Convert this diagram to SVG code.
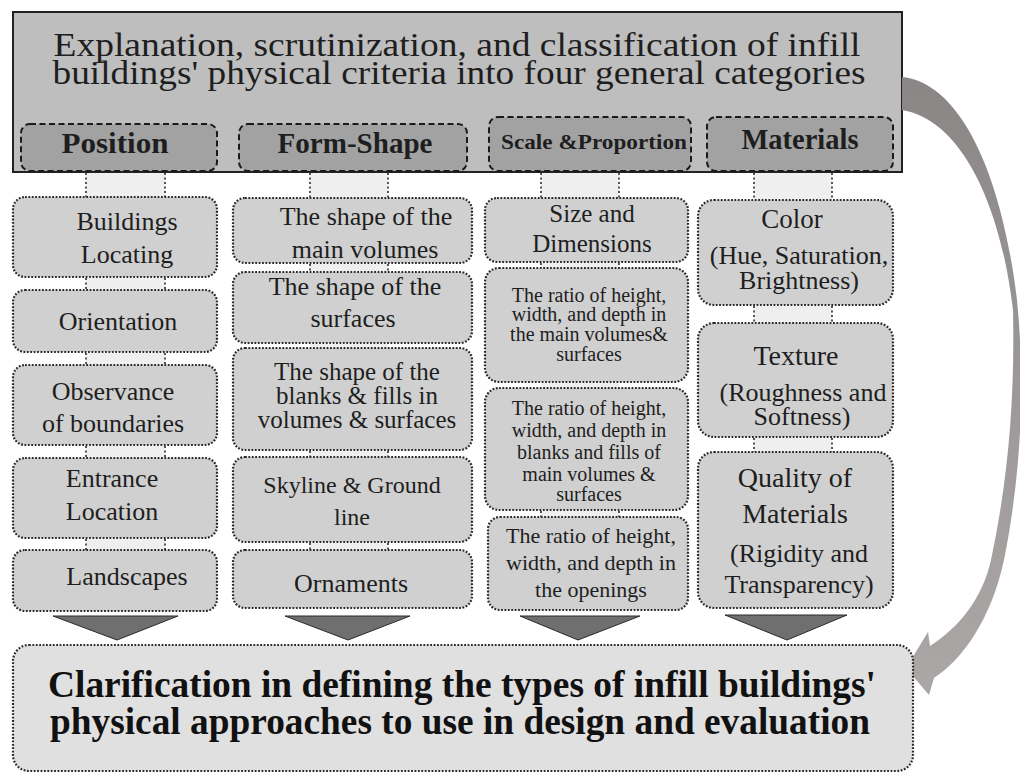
<svg xmlns="http://www.w3.org/2000/svg" width="1020" height="778" viewBox="0 0 1020 778">
  <style>
    text { font-family: "Liberation Serif", "Times New Roman", Times, serif; fill: #1e1e1e; text-anchor: middle; }
    .head { font-size: 34px; }
    .cat { font-size: 29px; font-weight: bold; }
    .big { font-size: 26px; }
    .mid { font-size: 22px; }
    .small { font-size: 20px; }
    .final { font-size: 37px; font-weight: bold; fill: #111; }
    .catbox { fill: #a2a2a2; stroke: #1a1a1a; stroke-width: 2; stroke-dasharray: 6 3.5; }
    .item { fill: #d0d0d0; stroke: #2a2a2a; stroke-width: 2.2; stroke-dasharray: 1.8 1.6; }
    .bridge { fill: #efefef; stroke: none; }
    .post { stroke: #555; stroke-width: 2; stroke-dasharray: 2 2.5; }
    .tri { fill: #6f6f6f; stroke: #2a2a2a; stroke-width: 1; }
  </style>
  <defs>
    <linearGradient id="sweep" x1="0" y1="0" x2="0" y2="1">
      <stop offset="0" stop-color="#8a8685"/>
      <stop offset="0.55" stop-color="#9d9a99"/>
      <stop offset="1" stop-color="#aaa7a6"/>
    </linearGradient>
  </defs>

  <!-- header panel with the four categories -->
  <g id="header">
    <rect x="13" y="12" width="889" height="160" fill="#bebebe" stroke="#222" stroke-width="2"/>
    <text class="head" x="457" y="56" textLength="807" lengthAdjust="spacingAndGlyphs">Explanation, scrutinization, and classification of infill</text>
    <text class="head" x="459" y="84" textLength="813" lengthAdjust="spacingAndGlyphs">buildings' physical criteria into four general categories</text>
  </g>
  <g id="cat-position">
    <rect class="catbox" x="21" y="124" width="196" height="47" rx="9"/>
    <text class="cat" x="115" y="153" textLength="107" lengthAdjust="spacingAndGlyphs">Position</text>
  </g>
  <g id="cat-form">
    <rect class="catbox" x="239" y="124" width="228" height="47" rx="9"/>
    <text class="cat" x="355" y="153" textLength="155" lengthAdjust="spacingAndGlyphs">Form-Shape</text>
  </g>
  <g id="cat-scale">
    <rect class="catbox" x="489" y="117" width="202" height="54" rx="9"/>
    <text class="cat" x="594" y="149" style="font-size:21px" textLength="186" lengthAdjust="spacingAndGlyphs">Scale &amp;Proportion</text>
  </g>
  <g id="cat-materials">
    <rect class="catbox" x="707" y="117" width="186" height="54" rx="9"/>
    <text class="cat" x="800" y="149" style="font-size:28.5px" textLength="117" lengthAdjust="spacingAndGlyphs">Materials</text>
  </g>

  <!-- links: dotted posts with pale bands between header and items -->
  <g id="connectors">
    <!-- column 1 -->
    <rect class="bridge" x="86" y="173" width="79" height="24"/>
    <rect class="bridge" x="86" y="278" width="79" height="12"/>
    <rect class="bridge" x="86" y="353" width="79" height="12"/>
    <rect class="bridge" x="86" y="446" width="79" height="12"/>
    <rect class="bridge" x="86" y="539" width="79" height="11"/>
    <path class="post" d="M86 173V197M165 173V197M86 278V290M165 278V290M86 353V365M165 353V365M86 446V458M165 446V458M86 539V550M165 539V550"/>
    <!-- column 2 -->
    <rect class="bridge" x="310" y="173" width="78" height="25"/>
    <rect class="bridge" x="310" y="264" width="78" height="8"/>
    <rect class="bridge" x="310" y="344" width="78" height="4"/>
    <rect class="bridge" x="310" y="451" width="78" height="6"/>
    <rect class="bridge" x="310" y="543" width="78" height="7"/>
    <path class="post" d="M310 173V198M388 173V198M310 264V272M388 264V272M310 451V457M388 451V457M310 543V550M388 543V550"/>
    <!-- column 3 -->
    <rect class="bridge" x="541" y="173" width="78" height="25"/>
    <rect class="bridge" x="541" y="263" width="78" height="5"/>
    <rect class="bridge" x="541" y="383" width="78" height="5"/>
    <rect class="bridge" x="541" y="511" width="78" height="6"/>
    <path class="post" d="M541 173V198M619 173V198M541 263V268M619 263V268M541 511V517M619 511V517"/>
    <!-- column 4 -->
    <rect class="bridge" x="754" y="173" width="78" height="27"/>
    <rect class="bridge" x="754" y="306" width="78" height="17"/>
    <rect class="bridge" x="754" y="438" width="78" height="14"/>
    <path class="post" d="M754 173V200M832 173V200M754 306V323M832 306V323M754 438V452M832 438V452"/>

    <!-- down arrows into the result -->
    <polygon class="tri" points="53,616 178,616 117,640"/>
    <polygon class="tri" points="285,616 410,616 348,640"/>
    <polygon class="tri" points="520,616 640,616 578,640"/>
    <polygon class="tri" points="725,615 847,615 787,640"/>

    <!-- sweeping feedback arrow from header to result -->
    <path fill="url(#sweep)" d="M902 77 C955 82 1000 160 1017 300 C1025 380 1022 470 1004 560 C991 620 962 660 934 678 L929 695 L906 668 L928 632 L930 646 C958 628 982 600 991 560 C1008 480 1015 400 1013 310 C1000 200 960 120 902 110 Z"/>
  </g>

  <!-- Position column -->
  <g id="pos-1">
    <rect class="item" x="13" y="197" width="204" height="80" rx="12"/>
    <text class="big" x="127" y="230">Buildings</text>
    <text class="big" x="127" y="263">Locating</text>
  </g>
  <g id="pos-2">
    <rect class="item" x="13" y="290" width="204" height="62" rx="12"/>
    <text class="big" x="118" y="330">Orientation</text>
  </g>
  <g id="pos-3">
    <rect class="item" x="13" y="365" width="204" height="80" rx="12"/>
    <text class="big" x="113" y="400">Observance</text>
    <text class="big" x="113" y="432">of boundaries</text>
  </g>
  <g id="pos-4">
    <rect class="item" x="13" y="458" width="204" height="80" rx="12"/>
    <text class="big" x="112" y="487">Entrance</text>
    <text class="big" x="112" y="520">Location</text>
  </g>
  <g id="pos-5">
    <rect class="item" x="13" y="550" width="204" height="61" rx="12"/>
    <text class="big" x="127" y="585">Landscapes</text>
  </g>

  <!-- Form-Shape column -->
  <g id="form-1">
    <rect class="item" x="233" y="198" width="239" height="65" rx="12"/>
    <text class="big" x="366" y="225">The shape of the</text>
    <text class="big" x="365" y="258">main volumes</text>
  </g>
  <g id="form-2">
    <rect class="item" x="233" y="272" width="239" height="71" rx="12"/>
    <text class="big" x="355" y="295">The shape of the</text>
    <text class="big" x="353" y="327">surfaces</text>
  </g>
  <g id="form-3">
    <rect class="item" x="233" y="348" width="239" height="102" rx="12"/>
    <text class="big" x="357" y="380" style="font-size:25px">The shape of the</text>
    <text class="big" x="357" y="404" style="font-size:25px">blanks &amp; fills in</text>
    <text class="big" x="357" y="428" style="font-size:25px">volumes &amp; surfaces</text>
  </g>
  <g id="form-4">
    <rect class="item" x="233" y="457" width="239" height="85" rx="12"/>
    <text class="big" x="352" y="493" style="font-size:24px">Skyline &amp; Ground</text>
    <text class="big" x="352" y="525" style="font-size:24px">line</text>
  </g>
  <g id="form-5">
    <rect class="item" x="233" y="550" width="239" height="58" rx="12"/>
    <text class="big" x="351" y="592">Ornaments</text>
  </g>

  <!-- Scale & Proportion column -->
  <g id="scale-1">
    <rect class="item" x="485" y="198" width="203" height="64" rx="12"/>
    <text class="big" x="592" y="222" style="font-size:25px">Size and</text>
    <text class="big" x="592" y="252" style="font-size:25px">Dimensions</text>
  </g>
  <g id="scale-2">
    <rect class="item" x="485" y="268" width="203" height="114" rx="14"/>
    <text class="small" x="589" y="302">The ratio of height,</text>
    <text class="small" x="589" y="321">width, and depth in</text>
    <text class="small" x="589" y="341">the main volumes&amp;</text>
    <text class="small" x="589" y="361">surfaces</text>
  </g>
  <g id="scale-3">
    <rect class="item" x="485" y="388" width="203" height="122" rx="14"/>
    <text class="small" x="589" y="415">The ratio of height,</text>
    <text class="small" x="589" y="437">width, and depth in</text>
    <text class="small" x="589" y="459">blanks and fills of</text>
    <text class="small" x="589" y="481">main volumes &amp;</text>
    <text class="small" x="589" y="501">surfaces</text>
  </g>
  <g id="scale-4">
    <rect class="item" x="488" y="517" width="200" height="93" rx="12"/>
    <text class="mid" x="591" y="543">The ratio of height,</text>
    <text class="mid" x="591" y="570">width, and depth in</text>
    <text class="mid" x="591" y="597">the openings</text>
  </g>

  <!-- Materials column -->
  <g id="mat-1">
    <rect class="item" x="698" y="200" width="195" height="105" rx="16"/>
    <text class="big" x="792" y="228" style="font-size:27px">Color</text>
    <text class="big" x="799" y="264">(Hue, Saturation,</text>
    <text class="big" x="799" y="289">Brightness)</text>
  </g>
  <g id="mat-2">
    <rect class="item" x="698" y="323" width="195" height="114" rx="16"/>
    <text class="big" x="796" y="365" style="font-size:28px">Texture</text>
    <text class="big" x="803" y="401">(Roughness and</text>
    <text class="big" x="802" y="425">Softness)</text>
  </g>
  <g id="mat-3">
    <rect class="item" x="698" y="452" width="195" height="156" rx="16"/>
    <text class="big" x="795" y="487" style="font-size:28px">Quality of</text>
    <text class="big" x="795" y="523" style="font-size:28px">Materials</text>
    <text class="big" x="799" y="562">(Rigidity and</text>
    <text class="big" x="799" y="593">Transparency)</text>
  </g>

  <!-- result panel -->
  <g id="result">
    <rect class="item" x="13" y="645" width="900" height="126" rx="16" style="fill:#e0e0e0"/>
    <text class="final" x="462" y="697" textLength="828" lengthAdjust="spacingAndGlyphs">Clarification in defining the types of infill buildings'</text>
    <text class="final" x="460" y="734" textLength="820" lengthAdjust="spacingAndGlyphs">physical approaches to use in design and evaluation</text>
  </g>
</svg>
